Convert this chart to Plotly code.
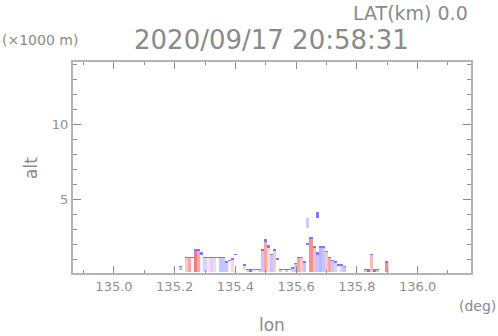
import plotly.graph_objects as go

# ---- data ----
lon_cols = [round(135.22 + 0.01 * i, 2) for i in range(69)]
col_top = [0.5, 0, 1.1, 1.1, 1.1, 1.6, 1.6, 1.4, 1.15, 1.15,
           1.15, 1.15, 1.15, 1.15, 1.1, 0.85, 0.9, 1.0, 1.35, 0,
           0, 0.6, 0.35, 0.3, 0.35, 0.35, 0.35, 1.6, 2.3, 1.9,
           1.3, 1.6, 1.0, 0.35, 0.35, 0.35, 0.35, 0.4, 0.7, 1.15,
           1.1, 0.8, 2.0, 2.4, 1.8, 1.4, 1.8, 1.8, 1.5, 1.1,
           0.9, 0.85, 0.6, 0.6, 0.55, 0, 0, 0, 0, 0,
           0, 0.35, 0.3, 1.35, 0.3, 0.35, 0, 0, 0.8]
col_bot = [0.25, 0, 0.15, 0.15, 0.15, 0.15, 0.15, 0.15, 0.15, 0.15,
           0.15, 0.15, 0.15, 0.15, 0.15, 0.15, 0.15, 0.15, 0.15, 0,
           0, 0.25, 0.15, 0.15, 0.15, 0.15, 0.15, 0.15, 0.15, 0.15,
           0.15, 0.15, 0.15, 0.15, 0.15, 0.15, 0.15, 0.15, 0.15, 0.15,
           0.15, 0.15, 0.15, 0.15, 0.15, 0.15, 0.15, 0.15, 0.15, 0.15,
           0.15, 0.15, 0.15, 0.15, 0.15, 0, 0, 0, 0, 0,
           0, 0.15, 0.15, 0.15, 0.15, 0.15, 0, 0, 0.15]
col_val = [-0.5, 0, 0.4, 0.6, 0.1, 0.8, 0.6, 0.1, -0.3, 0.2,
           -0.3, 0.3, 0.0, -0.4, -0.4, -0.4, -0.1, 0.3, 0.0, 0,
           0, 0.3, -0.3, 0.4, 0.2, 0.0, -0.3, -0.4, 0.6, 0.3,
           -0.4, 0.4, 0.0, -0.4, 0.0, -0.4, 0.1, -0.3, -0.4, 0.6,
           0.4, -0.4, 0.0, 0.7, 0.5, -0.4, -0.5, -0.4, 0.4, 0.6,
           -0.4, -0.3, 0.1, -0.3, -0.4, 0, 0, 0, 0, 0,
           0, -0.4, 0.1, 0.5, 0.0, -0.4, 0, 0, 0.7]
edge_val = -0.8
# isolated echoes aloft: (lon, bottom, top, value)
float_lon = [135.64, 135.67]
float_bot = [3.1, 3.75]
float_top = [3.7, 4.15]
float_val = [-0.35, -0.8]

alt_rows = [round(0.1 * k, 1) for k in range(1, 43)]

# build grid
z = [[None] * len(lon_cols) for _ in alt_rows]
for j, lo in enumerate(lon_cols):
    t, b, v = col_top[j], col_bot[j], col_val[j]
    if t <= 0:
        continue
    for i, a in enumerate(alt_rows):
        if b <= a <= t:
            z[i][j] = v
    for i, a in enumerate(alt_rows):
        if a <= t < a + 0.1:
            z[i][j] = edge_val
for lo, b, t, v in zip(float_lon, float_bot, float_top, float_val):
    j = lon_cols.index(lo)
    for i, a in enumerate(alt_rows):
        if b <= a <= t:
            z[i][j] = v

fig = go.Figure()
fig.add_trace(go.Heatmap(
    x=lon_cols, y=alt_rows, z=z, zmin=-1, zmax=1,
    colorscale=[[0, '#5050ff'], [0.25, '#b8b8ff'], [0.5, '#ffffff'],
                [0.75, '#f8bcbc'], [1, '#e85050']],
    showscale=False, hoverongaps=False,
))

axcol = '#b4b4b4'
tickcol = '#8c8c8c'
FAM = 'DejaVu Sans ExtraLight, DejaVu Sans, sans-serif'
font_txt = dict(family=FAM, color='#8a8a8a')

W, H, L, R, T, B = 498, 336, 73, 27, 62, 63
fig.update_layout(
    width=W, height=H,
    margin=dict(l=L, r=R, t=T, b=B, pad=0),
    paper_bgcolor='white', plot_bgcolor='white',
    showlegend=False,
    font=dict(family=FAM, size=13, color='#8a8a8a'),
    xaxis=dict(
        range=[134.865, 136.176], tickvals=[135.0, 135.2, 135.4, 135.6, 135.8, 136.0],
        ticktext=['135.0', '135.2', '135.4', '135.6', '135.8', '136.0'],
        ticks='inside', ticklen=7, tickcolor=tickcol, tickwidth=1,
        minor=dict(dtick=0.1, tick0=135.0, ticks='inside', ticklen=3, tickcolor=tickcol),
        showline=True, linecolor=axcol, linewidth=2, mirror='allticks',
        showgrid=False, zeroline=False,
        tickfont=dict(family=FAM, size=13, color='#909090'),
    ),
    yaxis=dict(
        range=[0.07, 14.15], tickvals=[5, 10], ticktext=['5', '10'],
        ticks='inside', ticklen=8, tickcolor=tickcol, tickwidth=1,
        minor=dict(dtick=1, tick0=0, ticks='inside', ticklen=4, tickcolor=tickcol),
        showline=True, linecolor=axcol, linewidth=2, mirror='allticks',
        showgrid=False, zeroline=False,
        tickfont=dict(family=FAM, size=13, color='#909090'),
    ),
)

pw, ph = W - L - R, H - T - B
def px(xp):
    return (xp - L) / pw
def py(yp):
    return (H - B - yp) / ph

texts = [('LAT(km) 0.0', 19, 0, 470, 13, 'right'),
         ('2020/09/17 20:58:31', 26, 0, 271, 40, 'center'),
         ('(×1000 m)', 14, 0, 0, 40, 'left'),
         ('alt', 17, -90, 31, 168, 'center'),
         ('lon', 17, 0, 272, 325, 'center'),
         ('(deg)', 14, 0, 498, 306, 'right')]
for txt, sz, ang, xp, yp, xa in texts:
    fig.add_annotation(text=txt, xref='paper', yref='paper', x=px(xp), y=py(yp),
                       xanchor=xa, yanchor='middle', showarrow=False, textangle=ang,
                       font=dict(size=sz, **font_txt))

fig.write_html('out.html', config={'displayModeBar': False},
               post_script="document.body.style.margin='0';document.body.style.overflow='hidden';")
